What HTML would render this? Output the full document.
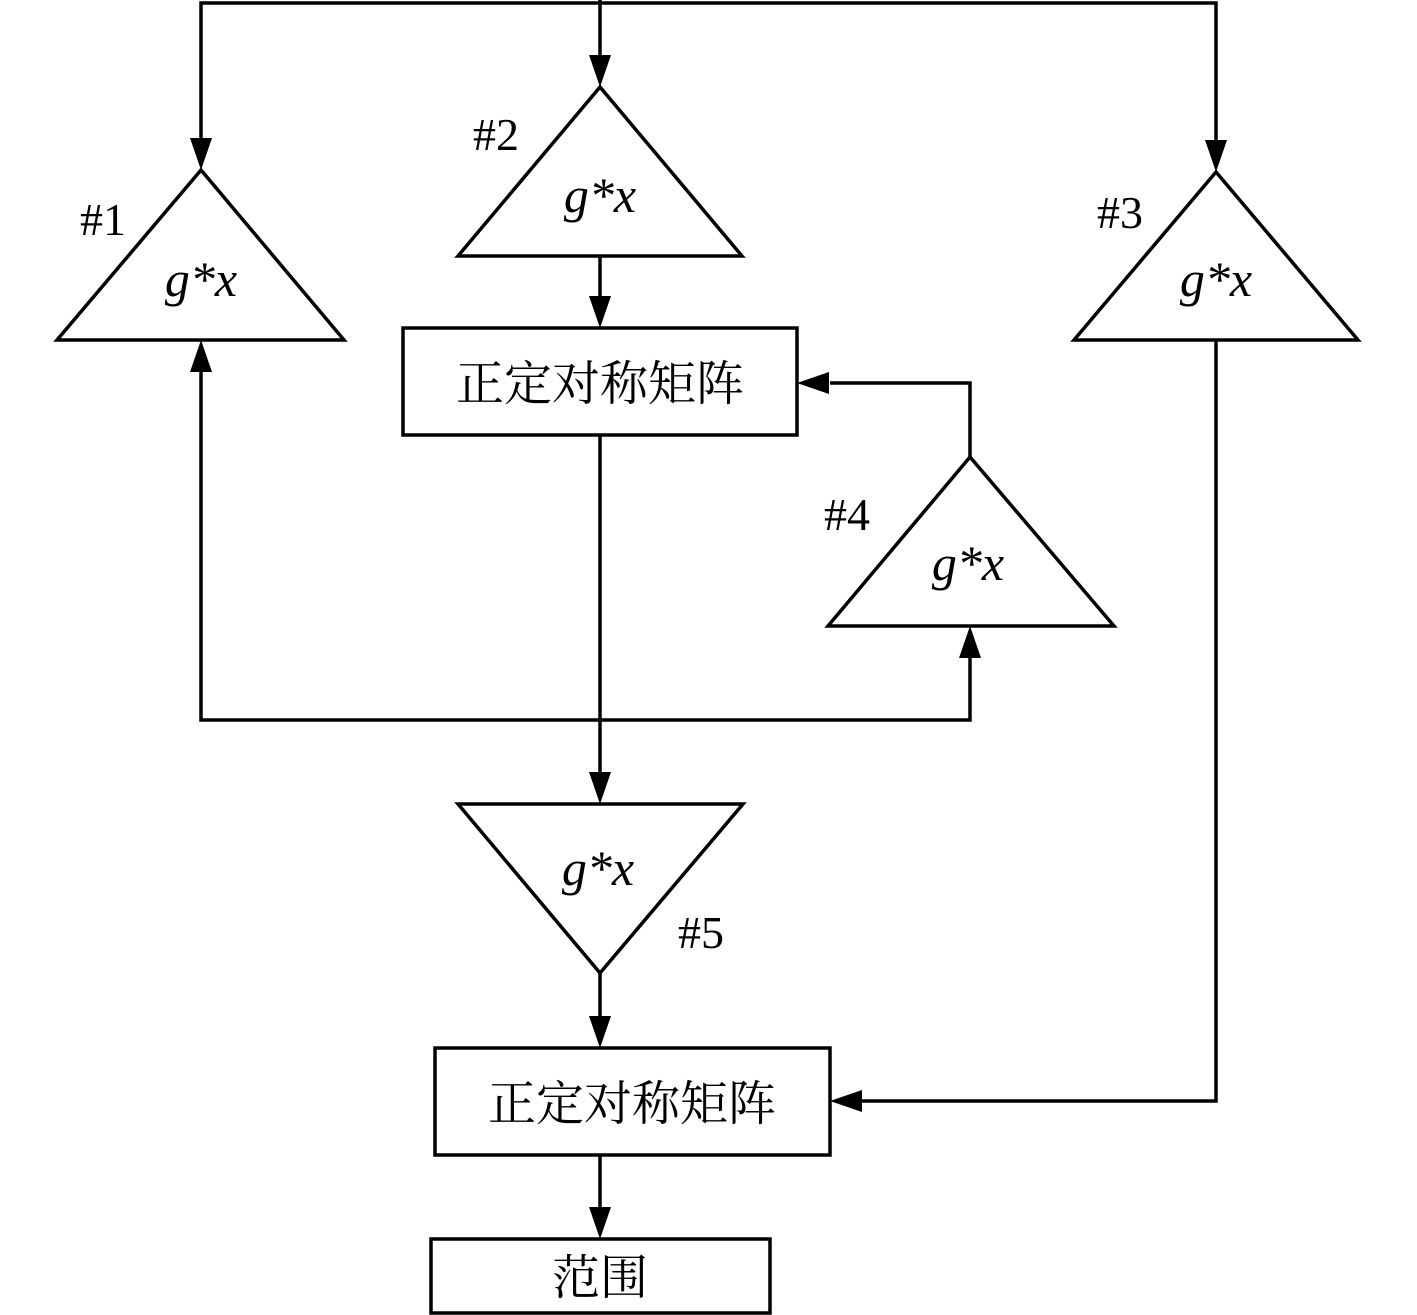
<!DOCTYPE html>
<html><head><meta charset="utf-8"><style>
html,body{margin:0;padding:0;background:#fff;}
svg{display:block;}
.lbl{font-family:"Liberation Serif",serif;font-size:46px;}
.g{font-family:"Liberation Serif",serif;font-size:50px;font-style:italic;}
.cn{font-family:"Liberation Serif","Noto Serif CJK SC",serif;font-size:48px;}
</style></head><body>
<svg width="1417" height="1315" viewBox="0 0 1417 1315" xmlns="http://www.w3.org/2000/svg">
<defs>
<marker id="a" markerWidth="10" markerHeight="10" refX="10" refY="5" orient="auto" markerUnits="userSpaceOnUse" viewBox="0 0 10 10">
</marker>
</defs>
<g stroke="#000" stroke-width="3.5" fill="none">
<!-- top line -->
<polyline points="201,150 201,3 1216,3 1216,150"/>
<line x1="600" y1="0" x2="600" y2="66"/>
<!-- triangles -->
<polygon points="201,170 57,340 344,340"/>
<polygon points="600,87 458,256 742,256"/>
<polygon points="1216,172 1074,340 1358,340"/>
<polygon points="970,457 828,626 1114,626"/>
<polygon points="458,804 743,804 600,973"/>
<!-- boxes -->
<rect x="403" y="328" width="394" height="107"/>
<rect x="435" y="1048" width="395" height="107"/>
<rect x="431" y="1239" width="339" height="74"/>
<!-- connectors -->
<line x1="600" y1="256" x2="600" y2="300"/>
<polyline points="970,457 970,383 830,383"/>
<line x1="600" y1="435" x2="600" y2="776"/>
<polyline points="201,370 201,720 970,720 970,656"/>
<line x1="600" y1="973" x2="600" y2="1020"/>
<polyline points="1216,340 1216,1101 862,1101"/>
<line x1="600" y1="1155" x2="600" y2="1211"/>
</g>
<g fill="#000">
<polygon points="201,170 190,138 212,138"/>
<polygon points="600,87 589,55 611,55"/>
<polygon points="1216,172 1205,140 1227,140"/>
<polygon points="600,328 589,296 611,296"/>
<polygon points="797,383 829,372 829,394"/>
<polygon points="201,340 190,372 212,372"/>
<polygon points="970,626 959,658 981,658"/>
<polygon points="600,804 589,772 611,772"/>
<polygon points="600,1048 589,1016 611,1016"/>
<polygon points="830,1101 862,1090 862,1112"/>
<polygon points="600,1239 589,1207 611,1207"/>
</g>
<text class="lbl" x="80" y="235">#1</text>
<text class="lbl" x="473" y="150">#2</text>
<text class="lbl" x="1097" y="228">#3</text>
<text class="lbl" x="824" y="530">#4</text>
<text class="lbl" x="678" y="948">#5</text>
<text class="g" x="201" y="296" text-anchor="middle">g*x</text>
<text class="g" x="600" y="212" text-anchor="middle">g*x</text>
<text class="g" x="1216" y="296" text-anchor="middle">g*x</text>
<text class="g" x="968" y="580" text-anchor="middle">g*x</text>
<text class="g" x="598" y="885" text-anchor="middle">g*x</text>
<text class="cn" x="600" y="400" text-anchor="middle">正定对称矩阵</text>
<text class="cn" x="632" y="1120" text-anchor="middle">正定对称矩阵</text>
<text class="cn" x="600" y="1294" text-anchor="middle">范围</text>
</svg>
</body></html>
